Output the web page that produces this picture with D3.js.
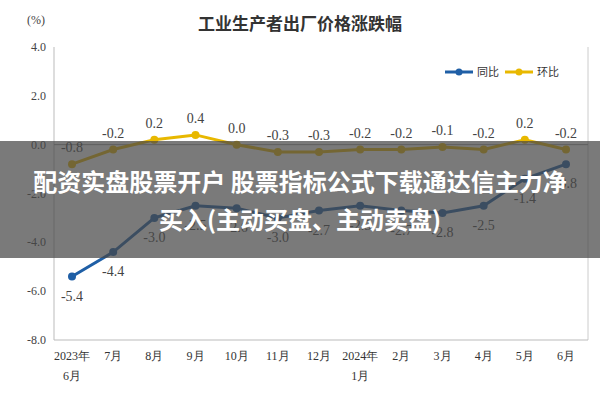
<!DOCTYPE html>
<html><head><meta charset="utf-8">
<script src="https://cdn.jsdelivr.net/npm/d3@7"></script>
<style>body{margin:0;background:#fff}text{font-family:"Liberation Serif",serif}</style>
</head><body><svg width="600" height="400"></svg>
<script>
let svg = d3.select("svg");
const months = ["2023年\n6月","7月","8月","9月","10月","11月","12月","2024年\n1月","2月","3月","4月","5月","6月"];
const yoy = [-5.4,-4.4,-3.0,-2.5,-2.6,-3.0,-2.7,-2.5,-2.7,-2.8,-2.5,-1.4,-0.8];
const mom = [-0.8,-0.2,0.2,0.4,0.0,-0.3,-0.3,-0.2,-0.2,-0.1,-0.2,0.2,-0.2];
const yTicks = [4,2,0,-2,-4,-6,-8];

let x = d3.scalePoint().domain(d3.range(months.length)).range([72, 566]);
let y = d3.scaleLinear().domain([-8, 4]).range([340, 47]);

svg.append("text").attr("x", 300).attr("y", 30).attr("text-anchor", "middle")
  .style("font-family", "Noto Sans CJK SC").style("font-size", "17px").style("font-weight", "bold")
  .attr("fill", "#333").text("工业生产者出厂价格涨跌幅");
svg.append("text").attr("x", 36).attr("y", 24).attr("text-anchor", "middle")
  .style("font-size", "12px").attr("fill", "#444").text("(%)");

// axes
svg.append("line").attr("x1", 54).attr("x2", 54).attr("y1", 47).attr("y2", 340).attr("stroke", "#bbb");
svg.append("line").attr("x1", 588).attr("x2", 588).attr("y1", 47).attr("y2", 340).attr("stroke", "#ccc");
svg.append("line").attr("x1", 54).attr("x2", 588).attr("y1", y(0)).attr("y2", y(0)).attr("stroke", "#999");
svg.append("line").attr("x1", 54).attr("x2", 588).attr("y1", 340).attr("y2", 340).attr("stroke", "#bbb");
svg.selectAll(".yt").data(yTicks).enter().append("text")
  .attr("x", 46).attr("y", d => y(d) + 4).attr("text-anchor", "end")
  .style("font-size", "12px").attr("fill", "#444").text(d => d.toFixed(1));
months.forEach((m, i) => {
  m.split("\n").forEach((s, j) => {
    svg.append("text").attr("x", x(i)).attr("y", 360 + j * 20).attr("text-anchor", "middle")
      .style("font-size", "12px").attr("fill", "#333").text(s);
  });
});

let line = d3.line().x((d, i) => x(i)).y(d => y(d));
[[yoy, "#1f5fa6", 24], [mom, "#e8b800", -12]].forEach(([data, c, off]) => {
  svg.append("path").datum(data).attr("d", line).attr("fill", "none").attr("stroke", c).attr("stroke-width", 3);
  svg.selectAll(null).data(data).enter().append("circle")
    .attr("cx", (d, i) => x(i)).attr("cy", d => y(d)).attr("r", 4).attr("fill", c);
  svg.selectAll(null).data(data).enter().append("text")
    .attr("x", (d, i) => x(i)).attr("y", d => y(d) + off).attr("text-anchor", "middle")
    .style("font-size", "14px").attr("fill", "#444").text(d => d.toFixed(1));
});

// legend
[["同比", "#1f5fa6", 445], ["环比", "#e8b800", 505]].forEach(([t, c, lx]) => {
  svg.append("line").attr("x1", lx).attr("x2", lx + 28).attr("y1", 72).attr("y2", 72).attr("stroke", c).attr("stroke-width", 3);
  svg.append("circle").attr("cx", lx + 14).attr("cy", 72).attr("r", 3.5).attr("fill", c);
  svg.append("text").attr("x", lx + 32).attr("y", 76).style("font-family", "Noto Sans CJK SC")
    .style("font-size", "11px").attr("fill", "#333").text(t);
});

// banner
svg.append("rect").attr("x", 0).attr("y", 141).attr("width", 600).attr("height", 117).attr("fill", "rgba(70,70,70,0.72)");
["配资实盘股票开户 股票指标公式下载通达信主力净", "买入(主动买盘、主动卖盘)"].forEach((t, i) => {
  svg.append("text").attr("x", 300).attr("y", 191 + i * 38).attr("text-anchor", "middle")
    .style("font-family", "Noto Sans CJK SC").style("font-size", "24px").style("font-weight", "bold")
    .attr("fill", "#fff").text(t);
});
</script></body></html>
